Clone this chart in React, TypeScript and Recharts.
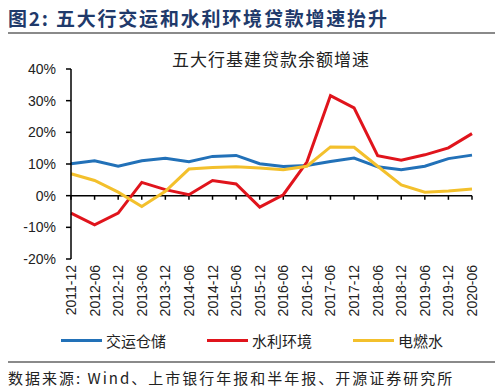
import { LineChart, Line, XAxis, YAxis, ReferenceLine, Legend } from "recharts";

const periods = [
  "2011-12", "2012-06", "2012-12", "2013-06", "2013-12", "2014-06",
  "2014-12", "2015-06", "2015-12", "2016-06", "2016-12", "2017-06",
  "2017-12", "2018-06", "2018-12", "2019-06", "2019-12", "2020-06",
];
// 交运仓储
const transport = [10.1, 11.0, 9.3, 11.0, 11.8, 10.7, 12.4, 12.7, 10.1, 9.2, 9.5, 10.8, 11.9, 9.1, 8.2, 9.3, 11.7, 12.8];
// 水利环境
const water = [-5.5, -9.2, -5.5, 4.2, 1.9, 0.3, 4.8, 3.7, -3.6, 0.3, 10.6, 31.6, 27.7, 12.6, 11.2, 12.9, 15.1, 19.6];
// 电燃水
const power = [6.9, 4.8, 1.1, -3.4, 1.4, 8.4, 8.9, 9.1, 8.7, 8.2, 9.3, 15.4, 15.3, 9.3, 3.4, 1.1, 1.5, 2.1];
const yTicks = [-20, -10, 0, 10, 20, 30, 40];

const series = [
  { key: "transport", name: "交运仓储", color: "#2271b8" },
  { key: "water", name: "水利环境", color: "#e0141c" },
  { key: "power", name: "电燃水", color: "#f3c02c" },
];

const data = periods.map((p, i) => ({
  period: p,
  transport: transport[i],
  water: water[i],
  power: power[i],
}));

const cjk = '"Noto Sans CJK SC", sans-serif';
const latin = '"Liberation Sans", Arial, sans-serif';

const XTick = (props: any) => {
  const { x, y, payload } = props;
  return (
    <text
      x={x}
      y={y}
      dy={5}
      transform={`rotate(-90, ${x}, ${y})`}
      textAnchor="end"
      fontSize={14}
      fontFamily={latin}
      fill="#222"
    >
      {payload.value}
    </text>
  );
};

const LegendContent = (props: any) => {
  const { payload } = props;
  return (
    <div style={{ display: "flex", paddingLeft: 61 }}>
      {payload.map((p: any) => (
        <div key={p.value} style={{ width: 149, display: "flex", alignItems: "center" }}>
          <span style={{ display: "inline-block", width: 41, height: 3, background: p.color, marginRight: 4 }} />
          <span style={{ fontFamily: cjk, fontSize: 15, color: "#222" }}>{p.value}</span>
        </div>
      ))}
    </div>
  );
};

export default function App() {
  return (
    <div style={{ position: "absolute", left: 0, top: 0, width: 499, height: 392, background: "#fff" }}>
      {/* header */}
      <div
        style={{
          position: "absolute", left: 8, top: 4, fontFamily: cjk, fontWeight: 700,
          fontSize: 19, color: "#1f3a6b", letterSpacing: 1.8, whiteSpace: "nowrap",
        }}
      >
        图2:&nbsp;五大行交运和水利环境贷款增速抬升
      </div>
      <div style={{ position: "absolute", left: 8, top: 32, width: 487, height: 2, background: "#8a8a8a" }} />

      <div
        style={{
          position: "absolute", left: 172, top: 46, fontFamily: cjk, fontSize: 17,
          color: "#222", letterSpacing: 1, whiteSpace: "nowrap",
        }}
      >
        五大行基建贷款余额增速
      </div>

      <div style={{ position: "absolute", left: 0, top: 0 }}>
        <LineChart width={499} height={392} data={data} margin={{ top: 69, right: 27, bottom: 0, left: 0 }}>
          <XAxis
            dataKey="period"
            axisLine={false}
            tickLine={false}
            tickSize={0}
            tickMargin={6}
            height={133}
            interval={0}
            tick={<XTick />}
          />
          <YAxis
            domain={[-20, 40]}
            ticks={yTicks}
            width={71}
            tickFormatter={(v: number) => `${v}%`}
            axisLine={{ stroke: "#000", strokeWidth: 1.5 }}
            tickLine={{ stroke: "#000", strokeWidth: 1.5 }}
            tickSize={5}
            tickMargin={10}
            tick={{ fontSize: 14, fontFamily: latin, fill: "#222" }}
          />
          <ReferenceLine y={0} stroke="#000" strokeWidth={1.5} />
          {periods.map((p) => (
            <ReferenceLine
              key={p}
              segment={[{ x: p, y: 0 }, { x: p, y: -1.3 }]}
              stroke="#000"
              strokeWidth={1.5}
            />
          ))}
          {series.map((s) => (
            <Line
              key={s.key}
              type="linear"
              dataKey={s.key}
              name={s.name}
              stroke={s.color}
              strokeWidth={3}
              dot={false}
              isAnimationActive={false}
            />
          ))}
          <Legend
            layout="horizontal"
            verticalAlign="middle"
            align="center"
            wrapperStyle={{ top: 330, left: 0, width: 499 }}
            content={<LegendContent />}
          />
        </LineChart>
      </div>

      <div style={{ position: "absolute", left: 8, top: 361, width: 487, height: 2, background: "#8a8a8a" }} />
      <div
        style={{
          position: "absolute", left: 8, top: 367, fontFamily: cjk, fontSize: 15,
          color: "#222", letterSpacing: 2, whiteSpace: "nowrap",
        }}
      >
        数据来源:&nbsp;Wind、上市银行年报和半年报、开源证券研究所
      </div>
    </div>
  );
}
